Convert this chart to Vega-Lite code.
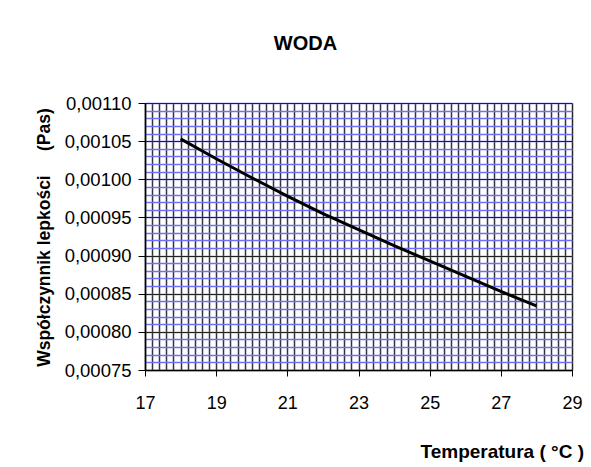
{
  "$schema": "https://vega.github.io/schema/vega-lite/v6.json",
  "width": 427,
  "height": 267,
  "autosize": {"type": "none"},
  "padding": {"left": 145, "top": 103, "right": 19, "bottom": 97},
  "background": "white",
  "title": {"text": "WODA", "font": "Liberation Sans", "fontSize": 20, "fontWeight": "bold", "color": "#000", "anchor": "middle", "frame": "group", "dx": -53, "offset": 40},
  "data": {"values": [
    {"T": 18, "mu": 0.001053},
    {"T": 19, "mu": 0.001027},
    {"T": 20, "mu": 0.001002},
    {"T": 21, "mu": 0.000978},
    {"T": 22, "mu": 0.000955},
    {"T": 23, "mu": 0.000934},
    {"T": 24, "mu": 0.000913},
    {"T": 25, "mu": 0.000893},
    {"T": 26, "mu": 0.000873},
    {"T": 27, "mu": 0.000853},
    {"T": 28, "mu": 0.000834}
  ]},
  "config": {
    "view": {"stroke": "#808080", "strokeWidth": 1},
    "axis": {"labelFont": "Liberation Sans", "titleFont": "Liberation Sans", "labelColor": "#000", "titleColor": "#000", "domainColor": "#000", "tickColor": "#000"}
  },
  "layer": [
    {
      "mark": {"type": "line", "opacity": 0},
      "encoding": {
        "x": {"field": "T", "type": "quantitative", "scale": {"domain": [17, 29], "nice": false, "zero": false},
          "axis": {"orient": "bottom", "tickCount": 60, "grid": true, "gridColor": "#111", "gridOpacity": 0.85, "gridWidth": 1.5, "labels": false, "ticks": false, "domain": false, "title": null}},
        "y": {"field": "mu", "type": "quantitative", "scale": {"domain": [0.00075, 0.0011], "nice": false, "zero": false},
          "axis": {"orient": "left", "tickCount": 35, "grid": true, "gridColor": "#6f6fff", "gridOpacity": 1, "gridWidth": 1.3, "labels": false, "ticks": false, "domain": false, "title": null}}
      }
    },
    {
      "mark": {"type": "line", "color": "#000", "strokeWidth": 3},
      "encoding": {
        "x": {"field": "T", "type": "quantitative",
          "axis": {"orient": "bottom", "values": [17, 19, 21, 23, 25, 27, 29], "grid": false, "ticks": true, "tickSize": 6, "domain": true, "domainWidth": 1.5,
            "labelFontSize": 18, "labelPadding": 18, "labelFlush": false, "labelOverlap": false,
            "title": "Temperatura ( °C )", "titleFontSize": 19, "titleFontWeight": "bold", "titleAlign": "left", "titleBaseline": "bottom", "titleAnchor": null, "titleX": 275, "titleY": 91}},
        "y": {"field": "mu", "type": "quantitative",
          "axis": {"orient": "left", "values": [0.00075, 0.0008, 0.00085, 0.0009, 0.00095, 0.001, 0.00105, 0.0011], "grid": true, "gridColor": "#222", "gridWidth": 1.2, "ticks": true, "tickSize": 7, "domain": true, "domainWidth": 1.5,
            "labelFontSize": 18.5, "labelPadding": 7, "labelFlush": false, "labelOverlap": false,
            "labelExpr": "replace(format(datum.value, '.5f'), '.', ',')",
            "title": "Współczynnik lepkości\u00a0\u00a0\u00a0\u00a0\u00a0(Pas)", "titleFontSize": 17.5, "titleFontWeight": "bold", "titleAngle": 270, "titleBaseline": "middle", "titleAlign": "center", "titleX": -101, "titleY": 134}}
      }
    }
  ],
  "resolve": {"axis": {"x": "independent", "y": "independent"}}
}
